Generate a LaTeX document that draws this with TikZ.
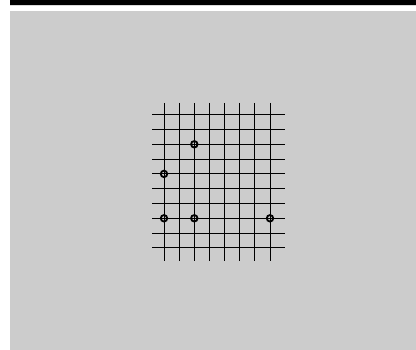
\documentclass[tikz,border=0pt]{standalone}
\begin{document}
\begin{tikzpicture}[x=1pt,y=-1pt,
  gridline/.style={black,line width=0.9pt},
  stone/.style={circle,draw=black,line width=1.8pt,inner sep=0pt,minimum size=6.5pt}]
\useasboundingbox (0,0) rectangle (416,350);
\fill[white] (0,0) rectangle (416,350);
\fill[black] (10,0) rectangle (416,5);
\fill[black!15] (10,5) rectangle (416,6);
\fill[black!20] (10,11) rectangle (416,350);
\foreach \x in {164,179.2,194.3,209.4,224.5,239.6,254.8,270}
  \draw[gridline] (\x,103) -- (\x,261);
\foreach \y in {114.7,129.5,144.3,159.1,173.9,188.7,203.5,218.3,233.1,247.9}
  \draw[gridline] (152,\y) -- (285,\y);
\node[stone] (s1) at (194.3,144.3) {};
\node[stone] (s2) at (164,173.9) {};
\node[stone] (s3) at (164,218.3) {};
\node[stone] (s4) at (194.3,218.3) {};
\node[stone] (s5) at (270,218.3) {};
\end{tikzpicture}
\end{document}
